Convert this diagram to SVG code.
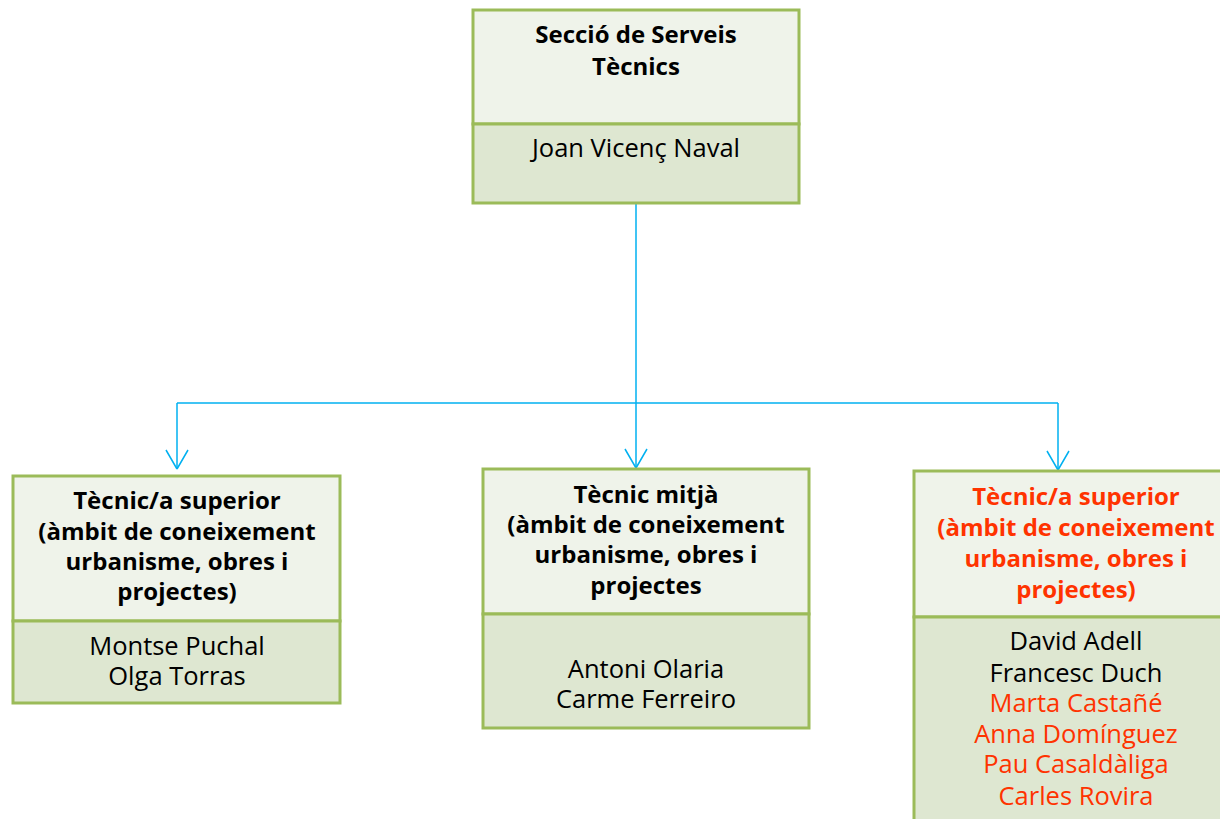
<svg xmlns="http://www.w3.org/2000/svg" width="1220" height="819" viewBox="0 0 1220 819">
<defs>
<style>
.hd{fill:#EFF3EA;stroke:#9BBB59;stroke-width:3}
.bd{fill:#DEE7D1;stroke:#9BBB59;stroke-width:3}
text{font-family:"Open Sans",Lato,"Liberation Sans",sans-serif;font-size:25.5px;text-anchor:middle;fill:#000}
.b{font-weight:bold;font-size:24px}
.r{fill:#FF3300}
.c{fill:none;stroke:#00B0F0;stroke-width:1.5}
</style>
<marker id="ah" markerWidth="24" markerHeight="26" viewBox="-21 -13 24 26" refX="0" refY="0" orient="auto" markerUnits="userSpaceOnUse">
<path d="M0,0 L-19,-11 M0,0 L-19,11" fill="none" stroke="#00B0F0" stroke-width="1.5"/>
</marker>
</defs>
<g id="connectors">
<path class="c" d="M636,204 V468" marker-end="url(#ah)"/>
<path class="c" d="M177,403 H1058"/>
<path class="c" d="M177,403 V469" marker-end="url(#ah)"/>
<path class="c" d="M1058,403 V470" marker-end="url(#ah)"/>
</g>
<g id="n-seccio">
<rect class="hd" x="473" y="10" width="326" height="114"/>
<rect class="bd" x="473" y="124" width="326" height="79"/>
<text class="b" x="636" y="43">Secció de Serveis</text>
<text class="b" x="636" y="75">Tècnics</text>
<text x="636" y="157">Joan Vicenç Naval</text>
</g>
<g id="n-superior1">
<rect class="hd" x="13" y="476" width="327" height="145"/>
<rect class="bd" x="13" y="621" width="327" height="82"/>
<text class="b" x="177" y="509">Tècnic/a superior</text>
<text class="b" x="177" y="540">(àmbit de coneixement</text>
<text class="b" x="177" y="570">urbanisme, obres i</text>
<text class="b" x="177" y="600">projectes)</text>
<text x="177" y="655">Montse Puchal</text>
<text x="177" y="685">Olga Torras</text>
</g>
<g id="n-mitja">
<rect class="hd" x="483" y="469" width="326" height="145"/>
<rect class="bd" x="483" y="614" width="326" height="114"/>
<text class="b" x="646" y="503">Tècnic mitjà</text>
<text class="b" x="646" y="533">(àmbit de coneixement</text>
<text class="b" x="646" y="563">urbanisme, obres i</text>
<text class="b" x="646" y="594">projectes</text>
<text x="646" y="678">Antoni Olaria</text>
<text x="646" y="708">Carme Ferreiro</text>
</g>
<g id="n-superior2">
<rect class="hd" x="914" y="471" width="326" height="146"/>
<rect class="bd" x="914" y="617" width="326" height="215"/>
<text class="b r" x="1076" y="505">Tècnic/a superior</text>
<text class="b r" x="1076" y="536">(àmbit de coneixement</text>
<text class="b r" x="1076" y="567">urbanisme, obres i</text>
<text class="b r" x="1076" y="598">projectes)</text>
<text x="1076" y="650">David Adell</text>
<text x="1076" y="682">Francesc Duch</text>
<text class="r" x="1076" y="712">Marta Castañé</text>
<text class="r" x="1076" y="743">Anna Domínguez</text>
<text class="r" x="1076" y="773">Pau Casaldàliga</text>
<text class="r" x="1076" y="805">Carles Rovira</text>
</g>
</svg>
